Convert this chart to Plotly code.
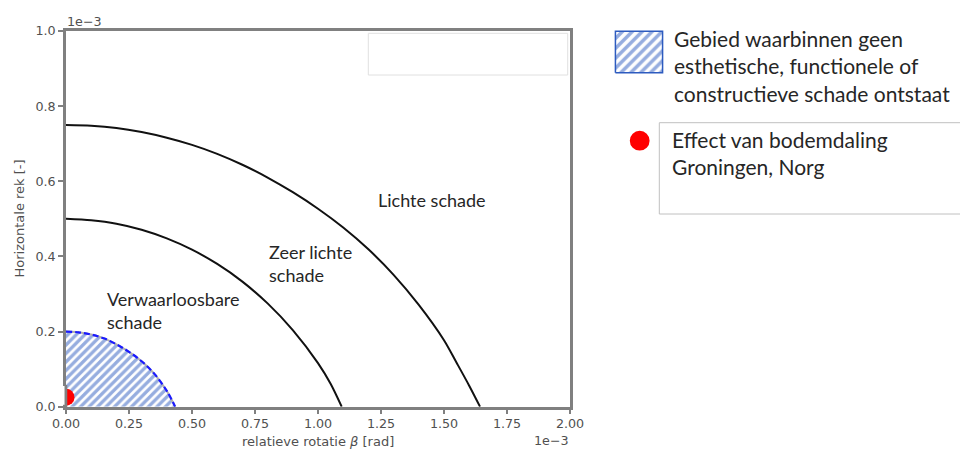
import plotly.graph_objects as go

W, H = 960, 451

# ---- data (units of 1e-3) ----
outer_x = [0.0, 0.1, 0.2, 0.3, 0.4, 0.5, 0.6, 0.7, 0.8, 0.9, 1.0, 1.1, 1.2, 1.3, 1.4, 1.5, 1.55, 1.6, 1.643]
outer_y = [0.750, 0.748, 0.742, 0.731, 0.716, 0.697, 0.673, 0.644, 0.610, 0.571, 0.527, 0.477, 0.419,
           0.351, 0.271, 0.177, 0.117, 0.056, 0.0]

middle_x = [0.0, 0.1, 0.2, 0.3, 0.4, 0.5, 0.6, 0.7, 0.8, 0.9, 1.0, 1.05, 1.094]
middle_y = [0.500, 0.496, 0.487, 0.471, 0.448, 0.418, 0.380, 0.333, 0.275, 0.204, 0.116, 0.061, 0.0]

inner_x = [0.0, 0.05, 0.10, 0.15, 0.20, 0.25, 0.30, 0.35, 0.40, 0.433]
inner_y = [0.200, 0.198, 0.192, 0.182, 0.166, 0.146, 0.121, 0.088, 0.042, 0.0]

point_x = [0.0]
point_y = [0.025]

x_ticks = [0, 0.25, 0.5, 0.75, 1.0, 1.25, 1.5, 1.75, 2.0]
x_ticklabels = ["0.00", "0.25", "0.50", "0.75", "1.00", "1.25", "1.50", "1.75", "2.00"]
y_ticks = [0, 0.2, 0.4, 0.6, 0.8, 1.0]
y_ticklabels = ["0.0", "0.2", "0.4", "0.6", "0.8", "1.0"]

region_labels = ["Lichte schade", "Zeer lichte<br>schade", "Verwaarloosbare<br>schade"]
region_label_x = [1.230, 0.798, 0.155]
region_label_y = [0.549, 0.382, 0.255]

legend_texts = ["Gebied waarbinnen geen<br>esthetische, functionele of<br>constructieve schade ontstaat",
                "Effect van bodemdaling<br>Groningen, Norg"]


def px(x):
    return x / W


def py(y):
    return 1 - y / H


HATCH = "#2d5bbf"
GREY = "#808080"
TICKC = "#505050"

fig = go.Figure()

# hatched safe region
fig.add_trace(go.Scatter(
    x=inner_x + [0.0], y=inner_y + [0.0], mode="lines", fill="toself",
    fillcolor="rgba(255,255,255,0)",
    fillpattern=dict(shape="/", fgcolor=HATCH, bgcolor="white", size=6, solidity=0.55),
    line=dict(width=0), hoverinfo="skip", showlegend=False))
fig.add_trace(go.Scatter(x=inner_x, y=inner_y, mode="lines",
                         line=dict(color="#b0b0b0", width=2, shape="spline"), showlegend=False))
fig.add_trace(go.Scatter(x=inner_x, y=inner_y, mode="lines",
                         line=dict(color="#1a1aff", width=2.2, dash="6px,3px", shape="spline"),
                         showlegend=False))

# damage boundaries
for xs, ys in [(middle_x, middle_y), (outer_x, outer_y)]:
    fig.add_trace(go.Scatter(x=xs, y=ys, mode="lines",
                             line=dict(color="#111111", width=2, shape="spline", smoothing=0.8),
                             showlegend=False))

# effect point
fig.add_trace(go.Scatter(x=point_x, y=point_y, mode="markers", cliponaxis=True,
                         marker=dict(color="#ff0000", size=17, line=dict(width=0)), showlegend=False))

# legend hatched square on its own axes
fig.add_trace(go.Scatter(x=[0, 1, 1, 0, 0], y=[0, 0, 1, 1, 0], mode="lines", fill="toself",
                         fillcolor="rgba(255,255,255,0)",
                         fillpattern=dict(shape="/", fgcolor=HATCH, bgcolor="white", size=7, solidity=0.5),
                         line=dict(color=HATCH, width=1.5), xaxis="x2", yaxis="y2",
                         hoverinfo="skip", showlegend=False))

tickfont = dict(family="DejaVu Sans", size=12.7, color=TICKC)

fig.update_layout(
    width=W, height=H,
    margin=dict(l=0, r=0, t=0, b=0),
    paper_bgcolor="white", plot_bgcolor="white",
    xaxis=dict(domain=[px(66), px(570)], range=[0, 2], tickvals=x_ticks, ticktext=x_ticklabels,
               showline=True, linecolor=GREY, linewidth=2.5, mirror=True,
               ticks="outside", ticklen=5, tickwidth=1.5, tickcolor=GREY, ticklabelstandoff=-2,
               showgrid=False, zeroline=False, tickfont=tickfont, automargin=False),
    yaxis=dict(domain=[py(406.7), py(31)], range=[0, 1], tickvals=y_ticks, ticktext=y_ticklabels,
               showline=True, linecolor=GREY, linewidth=2.5, mirror=True,
               ticks="outside", ticklen=5, tickwidth=1.5, tickcolor=GREY,
               showgrid=False, zeroline=False, tickfont=tickfont, automargin=False),
    xaxis2=dict(domain=[px(614), px(664)], range=[-0.03, 1.03], visible=False, anchor="y2"),
    yaxis2=dict(domain=[py(74), py(30)], range=[-0.03, 1.03], visible=False, anchor="x2"),
)

shapes = [
    dict(type="rect", xref="paper", yref="paper", x0=px(368.3), x1=px(567.7), y0=py(75), y1=py(33.3),
         line=dict(color="#e0e0e0", width=1), fillcolor="white", layer="below"),
    dict(type="rect", xref="paper", yref="paper", x0=px(659.3), x1=1.01, y0=py(214), y1=py(122.7),
         line=dict(color="#c0c0c0", width=1), fillcolor="white"),
    dict(type="circle", xref="paper", yref="paper", x0=px(629.8), x1=px(649.6), y0=py(150.6), y1=py(130.8),
         line=dict(width=0), fillcolor="#ff0000"),
    # mask the part of the effect marker that falls outside the axes, and redraw the spine over it
    dict(type="rect", xref="paper", yref="paper", x0=px(55.5), x1=px(64.7), y0=py(404.8), y1=py(386),
         line=dict(width=0), fillcolor="white", layer="above"),
    dict(type="line", xref="paper", yref="paper", x0=px(66), x1=px(66), y0=py(407.9), y1=py(385),
         line=dict(color=GREY, width=2.5), layer="above"),
]
fig.update_layout(shapes=shapes)

ann = []
lbl_font = dict(family="Lato", size=18, color="#262626")
for t, x, y in zip(region_labels, region_label_x, region_label_y):
    ann.append(dict(text=t, x=x, y=y, xref="x", yref="y", xanchor="left", yanchor="middle",
                    align="left", showarrow=False, font=lbl_font))

leg_font = dict(family="Lato", size=21, color="#262626")
ann.append(dict(text=legend_texts[0], x=px(672), y=py(66.3), xref="paper", yref="paper",
                xanchor="left", yanchor="middle", align="left", showarrow=False, font=leg_font))
ann.append(dict(text=legend_texts[1], x=px(670), y=py(152.5), xref="paper", yref="paper",
                xanchor="left", yanchor="middle", align="left", showarrow=False, font=leg_font))

ax_font = dict(family="DejaVu Sans", size=13, color=TICKC)
ann.append(dict(text="Horizontale rek [-]", x=px(19), y=py(218.5), xref="paper", yref="paper",
                textangle=-90, xanchor="center", yanchor="middle", showarrow=False, font=ax_font))
ann.append(dict(text="relatieve rotatie <i>β</i> [rad]", x=px(318), y=py(441), xref="paper", yref="paper",
                xanchor="center", yanchor="middle", showarrow=False, font=ax_font))
ann.append(dict(text="1e\u22123", x=px(65), y=py(21.5), xref="paper", yref="paper",
                xanchor="left", yanchor="middle", showarrow=False, font=tickfont))
ann.append(dict(text="1e\u22123", x=px(571), y=py(440), xref="paper", yref="paper",
                xanchor="right", yanchor="middle", showarrow=False, font=tickfont))
fig.update_layout(annotations=ann)

fig.write_html("out.html", config={"displayModeBar": False},
               post_script="document.body.style.margin='0';document.body.style.padding='0';")
